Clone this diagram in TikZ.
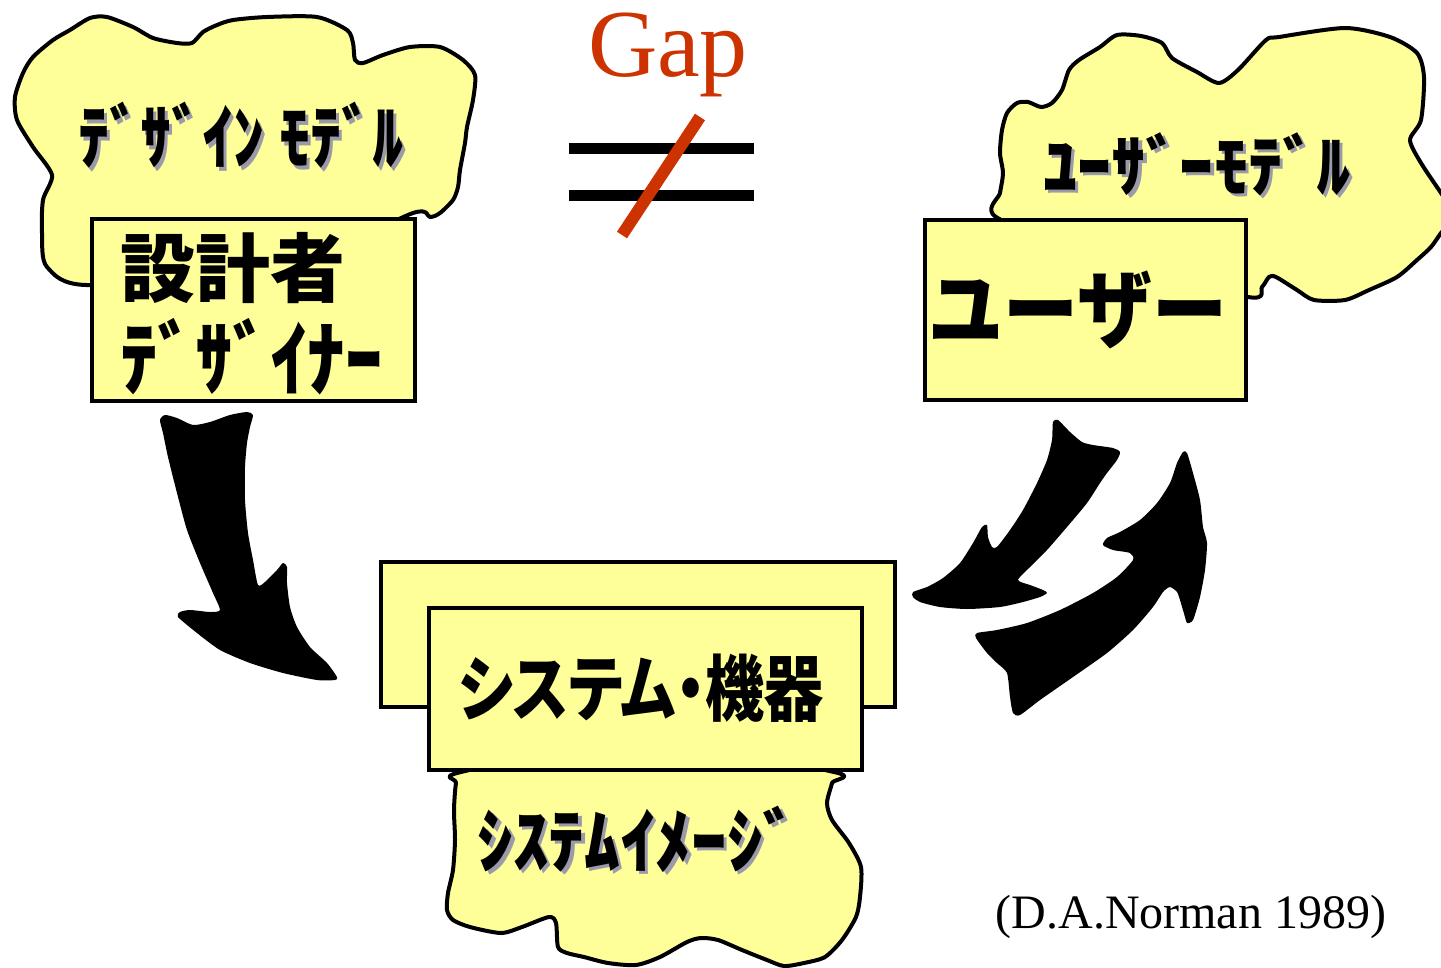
\documentclass[tikz,border=0pt]{standalone}
\usepackage{fontspec}
\setmainfont{Liberation Serif}
\newfontfamily\jp{Noto Sans CJK JP}
\newfontfamily\jpp{Noto Sans CJK JP}[RawFeature=+palt]
\definecolor{cloudfill}{HTML}{FFFF99}
\definecolor{gapred}{HTML}{CC3300}
\definecolor{shadowgray}{HTML}{9A9AA8}
\newcommand{\shadowed}[1]{\leavevmode\rlap{\kern3pt\raisebox{-3pt}{\textcolor{shadowgray}{#1}}}#1}
\begin{document}
\begin{tikzpicture}[x=1pt,y=-1pt,
  cloudshape/.style={draw=black,line width=4pt,fill=cloudfill,line join=round},
  boxshape/.style={draw=black,line width=4pt,fill=cloudfill,inner sep=0pt},
  bigarrow/.style={fill=black},
  modeltext/.style={inner sep=0pt,font=\jp\bfseries\fontsize{62}{62}\selectfont},
  roletext/.style={inner sep=0pt,font=\jp\bfseries\fontsize{75}{75}\selectfont},
  serifbig/.style={inner sep=0pt,text=gapred,font=\fontsize{96}{96}\selectfont},
  citetext/.style={inner sep=0pt,font=\fontsize{48}{48}\selectfont}]
\useasboundingbox (0,0) rectangle (1441,967);
\fill[white] (0,0) rectangle (1441,967);

% ---- top-left cloud (design model)
\draw[cloudshape] plot[smooth cycle,tension=0.45] coordinates {
(92,285) (47,267) (42,233) (43,200) (52,175) (33,147) (17,120) (15,97) (23,73)
(33,57) (53,40) (70,30) (90,18) (107,17) (133,27) (153,38) (177,43) (192,43)
(203,32) (217,25) (233,20) (267,17) (317,17) (347,30) (353,43) (355,60) (363,63)
(383,55) (410,47) (440,47) (463,60) (475,75) (473,100) (467,127) (465,143)
(460,170) (458,187) (453,200) (440,213) (430,217) (413,213) (300,260)};
\node[boxshape,minimum width=323pt,minimum height=182pt] (designerbox) at (253.5,310) {};

% ---- top-right cloud (user model)
\draw[cloudshape] plot[smooth cycle,tension=0.45] coordinates {
(996,217) (1000,193) (1003,173) (1000,153) (1002,130) (1007,113) (1017,103)
(1028,102) (1041,107) (1052,103) (1062,90) (1069,70) (1079,60) (1100,47)
(1117,35) (1141,36) (1162,43) (1172,58) (1197,72) (1219,83) (1238,70)
(1266,40) (1279,37) (1345,28) (1390,37) (1417,53) (1424,77) (1421,120)
(1410,140) (1421,163) (1441,193) (1455,215) (1441,233) (1431,247) (1417,260)
(1397,277) (1369,290) (1345,300) (1314,300) (1297,290) (1276,277) (1269,277)
(1262,287) (1248,297) (1100,260)};
\node[boxshape,minimum width=321pt,minimum height=180pt] (userbox) at (1085.5,310) {};

% ---- bottom: system
\node[boxshape,minimum width=514pt,minimum height=145pt] (systemback) at (638,634.5) {};
\draw[cloudshape] plot[smooth cycle,tension=0.45] coordinates {
(461,772) (456,783) (454,810) (455,840) (453,870) (448,893) (447,910) (453,920)
(470,927) (501,933) (522,927) (549,917) (556,923) (558,947) (567,953) (584,957)
(608,963) (636,965) (660,957) (687,942) (701,938) (718,940) (742,950) (767,960)
(784,966) (804,963) (825,957) (842,940) (856,917) (860,897) (861,867) (849,843)
(832,820) (827,803) (832,783) (834,772) (640,740)};
\node[boxshape,minimum width=433pt,minimum height=162pt] (systemfront) at (645.5,689) {};

% ---- arrows
\fill[bigarrow] plot[smooth cycle,tension=0.4] coordinates {
(160,420) (165,415) (177,418) (193,425) (210,422) (230,415) (247,412) (253,415)
(250,427) (247,443) (245,467) (245,500) (248,533) (253,560) (258,585) (265,582)
(277,570) (283,563) (287,567) (287,583) (290,607) (297,627) (310,647) (327,663)
(337,677) (335,680) (317,680) (283,673) (250,663) (220,650) (197,633) (178,617)
(180,612) (190,610) (210,612) (220,610) (213,593) (200,563) (187,530) (177,493)
(168,457) (163,433)};
\fill[bigarrow] plot[smooth cycle,tension=0.4] coordinates {
(1053,422) (1058,420) (1070,432) (1082,442) (1093,445) (1113,448) (1120,452)
(1117,460) (1107,473) (1100,483) (1087,503) (1067,527) (1047,550) (1030,567)
(1018,580) (1030,585) (1043,590) (1047,593) (1040,597) (1023,602) (1000,607)
(967,609) (940,607) (920,602) (913,597) (913,592) (927,587) (943,578) (960,563)
(973,543) (982,527) (987,525) (988,537) (992,547) (997,547) (1010,530)
(1023,510) (1037,483) (1047,460) (1052,440)};
\fill[bigarrow] plot[smooth cycle,tension=0.4] coordinates {
(977,633) (997,630) (1027,623) (1060,610) (1093,593) (1117,577) (1133,560)
(1130,553) (1113,550) (1103,545) (1107,538) (1120,532) (1140,520) (1157,503)
(1170,483) (1177,463) (1183,452) (1187,453) (1193,473) (1200,500) (1203,527)
(1207,543) (1205,570) (1200,597) (1193,620) (1187,623) (1185,617) (1180,600)
(1177,592) (1170,587) (1163,592) (1153,607) (1133,630) (1107,653) (1073,677)
(1040,700) (1020,715) (1013,713) (1010,697) (1007,673) (997,663) (987,653)
(976,638)};

% ---- gap symbol
\coordinate (eqAl) at (569,148); \coordinate (eqAr) at (754,148);
\coordinate (eqBl) at (569,195); \coordinate (eqBr) at (754,195);
\draw[line width=11pt] (eqAl) -- (eqAr);
\draw[line width=11pt] (eqBl) -- (eqBr);
\coordinate (slashT) at (700,117); \coordinate (slashB) at (622,235);
\draw[gapred,line width=12pt] (slashT) -- (slashB);
\node[serifbig,anchor=base] (gap) at (668,76) {Gap};

% ---- texts
\node[modeltext] (designmodel) at (241,137) {\scalebox{1}[1.15]{\shadowed{ﾃﾞｻﾞｲﾝ ﾓﾃﾞﾙ}}};
\node[modeltext] (usermodel) at (1197,166) {\scalebox{1.1}[1.1]{\shadowed{ﾕｰｻﾞｰﾓﾃﾞﾙ}}};
\node[modeltext] (sysimage) at (638,841) {\scalebox{1.15}[1.15]{\shadowed{ｼｽﾃﾑｲﾒｰｼﾞ}}};

\node[roletext,anchor=west] (designer) at (120,268) {設計者};
\node[roletext,anchor=west] (designerkana) at (120,357) {\scalebox{1}[1.1]{ﾃﾞｻﾞｲﾅｰ}};
\node[roletext] (user) at (1078,310) {\scalebox{1}[1.15]{ユーザー}};
\node[inner sep=0pt,font=\jpp\bfseries\fontsize{72}{72}\selectfont] (system) at (641,688) {\scalebox{0.82}[1]{システム・機器}};

\node[citetext,anchor=base] (cite) at (1191,928) {(D.A.Norman 1989)};
\end{tikzpicture}
\end{document}
